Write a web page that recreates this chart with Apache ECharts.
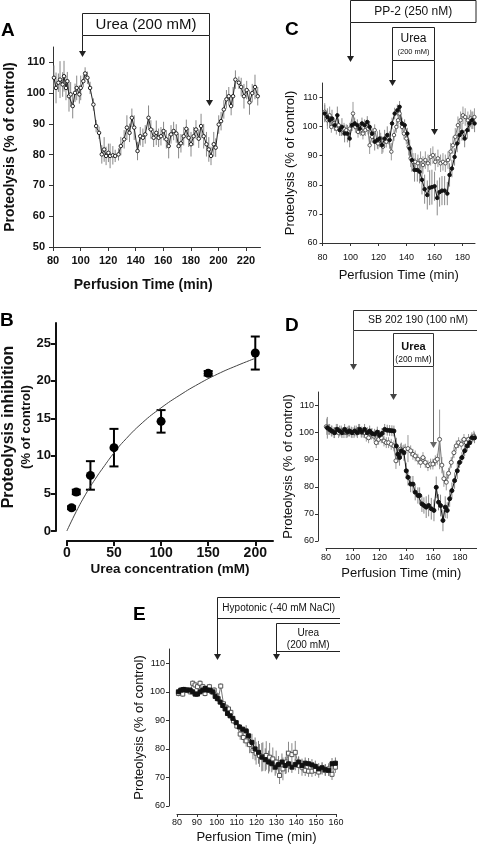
<!DOCTYPE html>
<html><head><meta charset="utf-8">
<script src="https://cdn.jsdelivr.net/npm/echarts@6/dist/echarts.min.js"></script>
<style>html,body{margin:0;padding:0;background:#fff}#c{width:477px;height:846px}</style>
</head><body><div id="c"></div>
<script>
// ---------- Panel A ----------
const ticksAx = [80,100,120,140,160,180,200,220];
const ticksAy = [50,60,70,80,90,100,110];
const timeA = [80.7,82.2,83.9,85.1,87.0,88.0,89.4,90.4,91.6,92.8,
94.3,96.0,97.2,99.1,100.1,102.0,103.3,105.0,106.9,109.3,
111.3,113.4,115.4,117.1,118.5,120.2,121.4,123.4,125.1,127.5,
129.2,131.6,133.6,135.5,137.2,138.9,141.3,143.3,145.2,146.9,
149.3,151.0,153.0,154.9,156.6,158.3,160.2,162.2,163.9,165.6,
167.5,169.4,171.1,172.8,174.8,176.7,178.4,180.1,182.0,183.7,
185.7,187.4,189.3,191.3,193.0,194.6,196.6,198.0,200.2,201.9,
203.9,205.8,207.5,209.2,210.6,212.3,214.8,216.5,218.5,220.5,
222.5,224.5,226.5,228.5];
const valA = [105,101.7,103.4,104.4,102.8,105.5,101.7,103.9,99,99.6,
95.8,100.1,101.7,99.6,101.7,103.9,106.4,105,101.7,96.3,
89.3,87.1,80.1,81.7,79.6,80.6,79.6,79.8,79.6,80.1,
82.8,85,88.8,87.1,92,88.8,81.2,86,85.5,86.6,
92,88.2,85.5,87.1,85.5,86,87.7,85,82.8,86.6,
87.7,86.9,82.8,83.7,86,88.4,85.5,83.4,86,88.2,
85.2,89.3,86,83.4,81.7,79.6,83.4,82.3,89.8,90.9,
94.7,98,99,95.8,99,104.4,103.4,102,99,101,
97,100,102,99];
const errA = [4,5,3,6,4,5,4,3,5,4,
4,3,4,3,4,2,2,2,2,2,
2,2,3,4,3,3,4,3,2,2,
3,3,4,3,3,4,3,3,3,3,
4,3,3,4,3,3,3,3,4,3,
3,3,4,3,3,3,3,4,3,3,
3,4,4,4,4,3,4,3,3,3,
3,3,3,3,3,3,2,3,4,3,
4,3,4,3];
const eventsA = [101, 193.5];

// ---------- Panel B ----------
const ticksBx = [0,50,100,150,200];
const ticksBy = [0,5,10,15,20,25];
const concB = [5,10,25,50,100,150,200];
const inhB = [3.1,5.2,7.4,11.1,14.6,21.0,23.7];
const semB = [0.2,0.3,1.9,2.5,1.5,0.3,2.2];
const fitConcB = [0,10,20,30,40,50,60,80,100,120,140,160,180,200];
const fitB = [0,2.6,4.9,6.9,8.7,10.4,11.9,14.4,16.4,18.1,19.6,20.9,22.0,23.0];

// ---------- Panel C ----------
const ticksCx = [80,100,120,140,160,180];
const ticksCy = [60,70,80,90,100,110];
const timeCf = [81.6,83.5,85.1,86.8,88.7,90.6,92.3,93.9,95.8,97.8,
99.4,101.1,103.0,104.9,106.6,108.2,110.1,112.0,113.7,115.4,
117.3,119.2,120.8,122.5,124.4,126.3,128.0,129.7,131.6,133.5,
135.1,136.8,138.7,140.6,142.3,143.9,145.8,147.8,149.4,151.1,
153.0,154.9,156.6,158.2,160.1,162.0,163.7,165.4,167.3,169.2,
170.8,172.5,174.4,176.3,178.0,179.7,181.6,183.5,185.1,186.8,
188.7];
const valCf = [104.5,103.3,102.2,102.8,100.5,103.9,98.8,99.9,97.6,97.6,
95.9,100.5,101.1,100.5,99.3,101.1,100.5,101.6,99.9,97.6,
94.8,95.4,95.9,93.6,95.9,97.1,95.4,101.1,104.5,105.6,
106.8,101.1,100.5,97.6,92.5,88.5,85.1,85.1,84.5,81.7,
78.5,76.5,79,79.2,79.5,75.5,77.5,78,78,77,
83.4,85.6,89.6,94.2,97.1,98.2,95.9,98.8,101.1,102.2,
101.1];
const errCf = [3,3,2,3,2,3,2,3,3,3,
3,2,2,2,2,2,2,2,2,2,
3,3,3,3,3,3,3,2,2,2,
2,2,2,2,3,4,4,4,4,5,
5,5,6,6,5,6,5,5,5,4,
4,3,3,3,3,3,3,3,3,3,
3];
const timeCo = [81.6,83.5,85.1,86.3,88.2,89.9,91.6,93.5,95.4,97.0,
99.4,101.8,103.5,105.4,107.3,108.9,110.6,112.5,113.7,115.4,
117.3,119.7,121.6,123.2,125.6,127.3,129.2,131.1,132.8,134.0,
135.1,136.8,138.2,139.9,141.6,143.0,144.7,146.3,148.2,150.1,
151.8,153.5,155.4,157.3,158.9,160.6,162.5,164.4,166.1,167.8,
169.7,171.6,173.2,174.9,176.8,178.7,180.4,182.0,183.9,185.9,
187.5,188.6];
const valCo = [105.1,102.2,103.9,99.9,101.1,99.3,100.5,98.8,99.3,98.8,
99.3,104.5,99.9,98.2,98.8,97.6,98.8,99.3,93.6,96.5,
98.8,94.2,95.9,93.1,94.8,95.9,91.4,97.1,99.9,102.2,
104.5,99.9,97.6,95.9,93.1,89.1,87.9,87.9,87.4,88.5,
86.8,88.5,87.4,89.6,90.2,87.9,89.1,87.4,87.9,87.4,
88.5,91.4,93.6,96.5,100.5,102.2,103.9,103.3,102.2,102.8,
102.2,103.3];
const errCo = [3,3,3,2,2,2,2,2,2,2,
2,4,2,2,2,2,2,2,3,2,
2,2,2,2,2,2,3,2,2,2,
2,2,2,2,3,3,3,3,3,3,
3,3,3,3,3,3,3,3,3,3,
3,3,3,3,3,3,3,3,3,3,
3,3];
const eventsC = [100, 130, 160];

// ---------- Panel D ----------
const ticksDx = [80,100,120,140,160,180];
const ticksDy = [60,70,80,90,100,110];
const timeDf = [81.0,82.7,84.4,86.4,88.4,90.2,91.9,93.9,95.9,97.6,
99.4,101.4,103.4,105.1,106.8,108.8,110.8,112.6,114.3,116.3,
118.3,120.0,121.8,123.8,125.7,127.5,129.2,130.7,132.5,133.7,
134.9,136.2,138.2,139.9,141.2,143.2,144.9,146.6,148.6,149.9,
151.6,153.1,154.8,156.6,158.6,160.6,162.3,164.0,165.5,167.3,
169.0,170.5,172.3,174.0,176.0,178.0,179.7,181.5,183.5,185.4,
187.2,188.9,190.9];
const valDf = [101.8,101.2,100.6,100,101.2,100.6,100,101.2,100.2,100.6,
100,100.6,100,101.2,100.2,101.2,100,100.6,99.7,99.4,
100.2,99,99.7,101.2,100.9,100.8,100.7,100.6,95.1,92,
90.8,93.3,92.6,85.9,83.5,81,81,78,76.8,76.8,
73.7,73.1,72.5,73.1,71.9,71.3,79.8,74.3,73.1,67.6,
72.5,71.3,75.6,78.6,82.3,85.9,89,90.8,93.3,95.1,
96.3,98.1,98.1];
const errDf = [4,2,2,2,2,2,2,2,2,2,
2,2,2,2,2,2,2,2,2,2,
2,2,2,2,2,2,2,2,3,3,
3,3,3,3,3,3,3,3,3,3,
3,3,4,4,4,4,4,3,4,4,
4,3,3,3,3,3,2,2,2,2,
2,2,2];
const timeDo = [80.2,82.0,84.0,85.9,87.7,89.4,91.4,93.4,95.1,96.9,
98.9,100.9,102.6,104.3,106.3,108.3,110.1,111.8,113.8,115.8,
117.5,119.3,121.3,123.3,125.0,126.7,128.7,130.7,132.2,133.7,
135.7,137.4,139.2,141.2,143.2,144.9,146.6,148.6,150.6,152.4,
154.1,156.1,158.1,159.8,161.6,163.1,164.8,166.5,168.0,169.8,
171.5,173.5,175.5,177.2,179.0,181.0,183.0,184.7,186.4,188.4,
190.4];
const valDo = [102.2,101.2,100.6,100,101.2,100,100.6,100,100,100.6,
100.2,100,100.6,101.2,100.2,100,98.7,98.1,99.4,98.7,
96.3,97.5,98.1,96.9,96.3,96.3,95.7,95.1,89.6,92,
93.9,93.3,93.9,94.1,93.3,92,91.4,90.2,89,90.8,
89,87.8,88.4,88.4,89.6,90.2,97.5,88,83,81.7,
85,89,92.6,95.1,96.3,95.7,97.5,96.3,97.5,97.5,
98.7];
const errDo = [3,2,2,2,2,2,2,2,2,2,
2,2,2,2,2,2,2,2,2,2,
2,2,2,2,2,2,2,2,3,2,
2,2,2,5,2,2,2,2,2,2,
2,2,2,2,2,2,11,3,3,3,
2,2,2,2,2,2,2,2,2,2,
2];
const eventsD = [100, 130, 160];

// ---------- Panel E ----------
const ticksEx = [80,90,100,110,120,130,140,150,160];
const ticksEy = [60,70,80,90,100,110];
const timeEf = [80.7,81.9,83.2,84.9,86.6,87.9,89.1,90.3,91.6,93.0,
94.1,95.3,96.6,98.0,99.2,100.3,101.7,103.0,104.2,105.4,
106.7,108.1,109.8,111.4,113.1,114.8,116.0,117.7,119.3,121.0,
122.7,124.4,126.1,127.7,129.4,131.1,132.8,134.5,136.1,137.8,
139.5,141.2,142.9,144.5,146.2,147.9,149.6,151.3,153.0,154.6,
156.3,158.0,159.7];
const valEf = [100,100.6,100.8,100.6,100.6,100,99.2,99.2,100,100.6,
101.2,100.6,100.6,100,98.4,97.6,96.4,95.2,94,92.4,
91.6,90.7,89.2,87.7,86.9,86.3,84.6,82.3,80,78.8,
77.1,76.2,75.4,74.8,73.6,74.5,75.4,74.2,74.8,73.6,
74.5,75.4,74.2,75,74.8,74.4,73.9,73,73.4,72.7,
72.5,74.8,75];
const errEf = [1,1,1,1,1,1,1,1,1,1,
1,1,1,1,1,1,1,1,1,1,
1,1,1,1,1,2,2,3,4,4,
5,4,4,3,3,3,3,3,3,2,
2,2,2,2,2,2,2,2,2,2,
2,2,2];
const timeEo = [80.7,81.9,82.9,84.0,85.2,86.6,87.9,89.1,90.3,91.6,
93.0,94.1,95.3,96.3,97.5,98.7,99.7,100.8,102.0,103.4,
104.7,105.9,107.1,108.4,110.1,111.8,113.4,114.8,116.5,118.2,
119.8,121.5,123.2,124.9,126.6,128.2,129.9,131.6,133.3,135.0,
136.1,137.8,139.5,141.2,142.9,144.5,146.2,147.9,149.6,151.3,
153.0,154.6,156.3,158.0,159.7];
const valEo = [99.4,100,99.2,100.8,100.6,100,103,102.4,101.8,103,
101.8,99.4,101.2,101.8,100,100.6,98.8,97.6,102,95.8,
94.6,94,92.8,89.8,88,85.2,84,82.8,81.5,79.4,
78.5,77.7,77.3,77.7,77.1,76.5,75.4,70.7,73,75.4,
78.5,78,78.8,74.2,73.6,72.5,72.2,72.2,72.5,71.9,
73,72.5,73,71.1,73.6];
const errEo = [1,1,1,1,1,1,1,1,1,1,
1,1,1,1,1,1,1,1,1,1,
1,1,1,1,1,2,2,2,3,3,
4,4,5,5,5,4,4,3,4,4,
4,4,4,3,3,2,2,2,2,2,
2,2,2,2,2];
const eventsE = [100, 130];

// ---------- build ----------
const FF = "'Liberation Sans', Arial, Helvetica, sans-serif";
const FN = "'Liberation Sans Narrow', 'Arial Narrow', 'Liberation Sans', Arial, sans-serif";

function pairs(xs, ys){ return xs.map((x,i)=>[x, ys[i]]); }
function triples(xs, ys, es){ return xs.map((x,i)=>[x, ys[i], es[i]]); }

function errSeries(idx, xs, ys, es, color, cap, lw){
  return {type:'custom', xAxisIndex:idx, yAxisIndex:idx, data:triples(xs,ys,es), z:1, silent:true,
    animation:false, clip:true,
    renderItem:function(params, api){
      const x=api.value(0), y=api.value(1), e=api.value(2);
      const a=api.coord([x,y-e]), b=api.coord([x,y+e]);
      const ch=[{type:'line', shape:{x1:a[0],y1:a[1],x2:b[0],y2:b[1]}, style:{stroke:color, lineWidth:lw||1}}];
      if(cap){
        ch.push({type:'line', shape:{x1:a[0]-cap,y1:a[1],x2:a[0]+cap,y2:a[1]}, style:{stroke:color,lineWidth:lw||1}});
        ch.push({type:'line', shape:{x1:b[0]-cap,y1:b[1],x2:b[0]+cap,y2:b[1]}, style:{stroke:color,lineWidth:lw||1}});
      }
      return {type:'group', children:ch};
    }};
}
function lineSeries(idx, xs, ys, sym, size, lineColor, fill, border){
  return {type:'line', xAxisIndex:idx, yAxisIndex:idx, data:pairs(xs,ys), symbol:sym, symbolSize:size,
    showAllSymbol:true, showSymbol:true, lineStyle:{color:lineColor,width:1},
    itemStyle:{color:fill, borderColor:border, borderWidth:1, opacity:1}, z:3, animation:false, silent:true};
}

function xAx(idx, min, max, ticks, o){
  return {gridIndex:idx, type:'value', min:min, max:max, offset:o.offset||0,
    axisLine:{show:true, onZero:false, lineStyle:{color:o.lc||'#333', width:o.lw||1}},
    axisTick:{show:true, customValues:ticks, length:o.tl||4, lineStyle:{color:o.lc||'#333', width:o.lw||1}},
    axisLabel:{customValues:ticks, margin:o.margin, fontSize:o.fs, fontWeight:o.fw||'normal', color:'#111', fontFamily:o.ff||FF},
    splitLine:{show:false},
    name:o.name, nameLocation:'middle', nameGap:o.gap,
    nameTextStyle:Object.assign({fontSize:o.nfs, fontWeight:o.nfw||'normal', color:'#111', fontFamily:FF}, o.nts||{})};
}
function yAx(idx, min, max, ticks, o){
  const a = xAx(idx, min, max, ticks, o);
  a.nameRotate = 90;
  return a;
}

const grids = [
  {left:53, top:47, width:207.5, height:200},
  {left:64, top:323, width:209, height:208},
  {left:322.5, top:83, width:152.5, height:160},
  {left:326, top:392, width:150.7, height:149},
  {left:177, top:649, width:159, height:157}
];

const xAxes = [
  xAx(0, 80, 230.5, ticksAx, {margin:8, fs:11, fw:'bold', name:'Perfusion Time (min)', gap:31, nfs:14, nfw:'bold', nts:{padding:[0,27,0,0]}}),
  xAx(1, 0, 218.8, ticksBx, {offset:10, lw:2, tl:5, lc:'#111', margin:5, fs:14, fw:'bold', name:'Urea concentration (mM)', gap:21, nfs:13.5, nfw:'bold'}),
  xAx(2, 80, 189, ticksCx, {tl:3, margin:10, fs:9, ff:FN, name:'Perfusion Time (min)', gap:26, nfs:13}),
  xAx(3, 80, 192.5, ticksDx, {offset:7, tl:3, margin:5, fs:9, ff:FN, name:'Perfusion Time (min)', gap:19, nfs:13}),
  xAx(4, 80, 160, ticksEx, {offset:8, tl:3, margin:4, fs:9, ff:FN, name:'Perfusion Time (min)', gap:17, nfs:13})
];
const yAxes = [
  yAx(0, 50, 115, ticksAy, {margin:8, fs:11, fw:'bold', name:'Proteolysis (% of control)', gap:36, nfs:14, nfw:'bold'}),
  yAx(1, 0, 27.7, ticksBy, {offset:11, lw:2, tl:5, lc:'#111', margin:5, fs:13, fw:'bold', gap:21,
    name:'{a|Proteolysis inhibition}\n{b|(% of control)}', nfs:13, nfw:'bold',
    nts:{rich:{a:{fontSize:16, fontWeight:'bold', fontFamily:FF, color:'#111', lineHeight:18, align:'center'},
               b:{fontSize:13, fontWeight:'bold', fontFamily:FF, color:'#111', lineHeight:16, align:'center'}}}}),
  yAx(2, 60, 115, ticksCy, {tl:3, margin:5, fs:9, ff:FN, name:'Proteolysis (% of control)', gap:26, nfs:13}),
  yAx(3, 60, 115, ticksDy, {offset:8, tl:3, margin:4, fs:9, ff:FN, name:'Proteolysis (% of control)', gap:18, nfs:13}),
  yAx(4, 60, 115, ticksEy, {offset:8, tl:3, margin:4, fs:9, ff:FN, name:'Proteolysis (% of control)', gap:21, nfs:13})
];

const series = [
  // A
  errSeries(0, timeA, valA, errA, '#888'),
  lineSeries(0, timeA, valA, 'circle', 3.5, '#222', '#fff', '#222'),
  // B
  {type:'line', xAxisIndex:1, yAxisIndex:1, data:pairs(fitConcB, fitB), smooth:true, showSymbol:false,
    lineStyle:{color:'#444', width:1}, z:1, animation:false, silent:true},
  errSeries(1, concB, inhB, semB, '#000', 4.5, 2),
  {type:'scatter', xAxisIndex:1, yAxisIndex:1, data:pairs(concB, inhB), symbol:'circle', symbolSize:9,
    itemStyle:{color:'#000', opacity:1}, z:3, animation:false, silent:true},
  // C
  errSeries(2, timeCo, valCo, errCo, '#999'),
  errSeries(2, timeCf, valCf, errCf, '#888'),
  lineSeries(2, timeCo, valCo, 'circle', 3.5, '#777', '#fff', '#555'),
  lineSeries(2, timeCf, valCf, 'circle', 3.5, '#111', '#111', '#111'),
  // D
  errSeries(3, timeDo, valDo, errDo, '#999'),
  errSeries(3, timeDf, valDf, errDf, '#888'),
  lineSeries(3, timeDo, valDo, 'circle', 4, '#777', '#fff', '#555'),
  lineSeries(3, timeDf, valDf, 'circle', 4, '#111', '#111', '#111'),
  // E
  errSeries(4, timeEo, valEo, errEo, '#888'),
  errSeries(4, timeEf, valEf, errEf, '#777'),
  lineSeries(4, timeEo, valEo, 'rect', 4, '#777', '#fff', '#555'),
  lineSeries(4, timeEf, valEf, 'rect', 4, '#111', '#111', '#111')
];

const chart = echarts.init(document.getElementById('c'), null, {renderer:'canvas', width:477, height:846});
chart.setOption({backgroundColor:'#fff', animation:false, grid:grids, xAxis:xAxes, yAxis:yAxes, series:series});

// ---------- annotations ----------
function px(i, v){ return Math.round(chart.convertToPixel({xAxisIndex:i}, v)) + 0.5; }
function ln(x1,y1,x2,y2,c){ return {type:'line', shape:{x1:x1,y1:y1,x2:x2,y2:y2}, style:{stroke:c||'#222', lineWidth:1}, silent:true}; }
function arrow(x, y1, tip, c){
  return [ln(x, y1, x, tip-5, c),
    {type:'polygon', shape:{points:[[x-3.5,tip-6],[x+3.5,tip-6],[x,tip]]}, style:{fill:c||'#222'}, silent:true}];
}
function box(x, y, w, h, c){ return {type:'rect', shape:{x:x, y:y, width:w, height:h}, style:{fill:'#fff', stroke:c||'#222', lineWidth:1}, silent:true}; }
function txt(x, y, s, fs, fw){
  return {type:'text', x:x, y:y, silent:true, style:{text:s, fontSize:fs, fontWeight:fw||'normal', fontFamily:FF, fill:'#111',
    align:'center', verticalAlign:'middle', textAlign:'center', textVerticalAlign:'middle'}};
}
function label(x, y, s){
  return {type:'text', x:x, y:y, silent:true, style:{text:s, fontSize:19, fontWeight:'bold', fontFamily:FF, fill:'#000',
    align:'left', verticalAlign:'middle', textAlign:'left', textVerticalAlign:'middle'}};
}

const g = [];
// A
{
  const a1 = px(0, eventsA[0]), a2 = px(0, eventsA[1]);
  g.push(box(a1, 13.5, a2-a1, 22));
  g.push(txt((a1+a2)/2, 24.5, 'Urea (200 mM)', 15));
  g.push(...arrow(a1, 35.5, 57));
  g.push(...arrow(a2, 35.5, 106));
  g.push(label(1, 31, 'A'));
}
// B
g.push(label(0, 321, 'B'));
// C
{
  const c1 = px(2, eventsC[0]), c2 = px(2, eventsC[1]), c3 = px(2, eventsC[2]);
  g.push(box(c1, 0.5, 476 - c1, 22));
  g.push(txt((c1+476)/2, 12, 'PP-2 (250 nM)', 12));
  g.push(...arrow(c1, 22.5, 62));
  g.push(box(c2, 27.5, c3-c2, 33));
  g.push(txt((c2+c3)/2, 38.5, 'Urea', 12));
  g.push(txt((c2+c3)/2, 52, '(200 mM)', 7.5));
  g.push(...arrow(c2, 60.5, 86));
  g.push(...arrow(c3, 60.5, 135));
  g.push(label(285, 30, 'C'));
}
// D
{
  const d1 = px(3, eventsD[0]), d2 = px(3, eventsD[1]), d3 = px(3, eventsD[2]);
  g.push(box(d1, 310.5, 480 - d1, 20, '#333'));
  g.push(txt(418, 320.5, 'SB 202 190 (100 nM)', 10.5));
  g.push(...arrow(d1, 330.5, 370, '#444'));
  g.push(box(d2, 333.5, d3-d2, 33, '#333'));
  g.push(txt((d2+d3)/2, 346.5, 'Urea', 11, 'bold'));
  g.push(txt((d2+d3)/2, 359.5, '(200 mM)', 8.5));
  g.push(...arrow(d2, 366.5, 400, '#444'));
  g.push(...arrow(d3, 366.5, 448, '#666'));
  g.push(label(285, 326, 'D'));
}
// E
{
  const e1 = px(4, eventsE[0]), e2 = px(4, eventsE[1]), eR = 340;
  g.push(ln(e1, 597.5, eR, 597.5));
  g.push(ln(e1, 618.5, eR, 618.5));
  g.push(txt((e1+eR)/2, 608, 'Hypotonic (-40 mM NaCl)', 10));
  g.push(...arrow(e1, 597.5, 660));
  g.push(ln(e2, 623.5, eR, 623.5));
  g.push(ln(e2, 651.5, eR, 651.5));
  g.push(txt((e2+eR)/2, 633, 'Urea', 10));
  g.push(txt((e2+eR)/2, 645, '(200 mM)', 10));
  g.push(...arrow(e2, 623.5, 660));
  g.push(label(133, 615, 'E'));
}
chart.setOption({graphic:{elements:g}});
</script>
</body></html>
